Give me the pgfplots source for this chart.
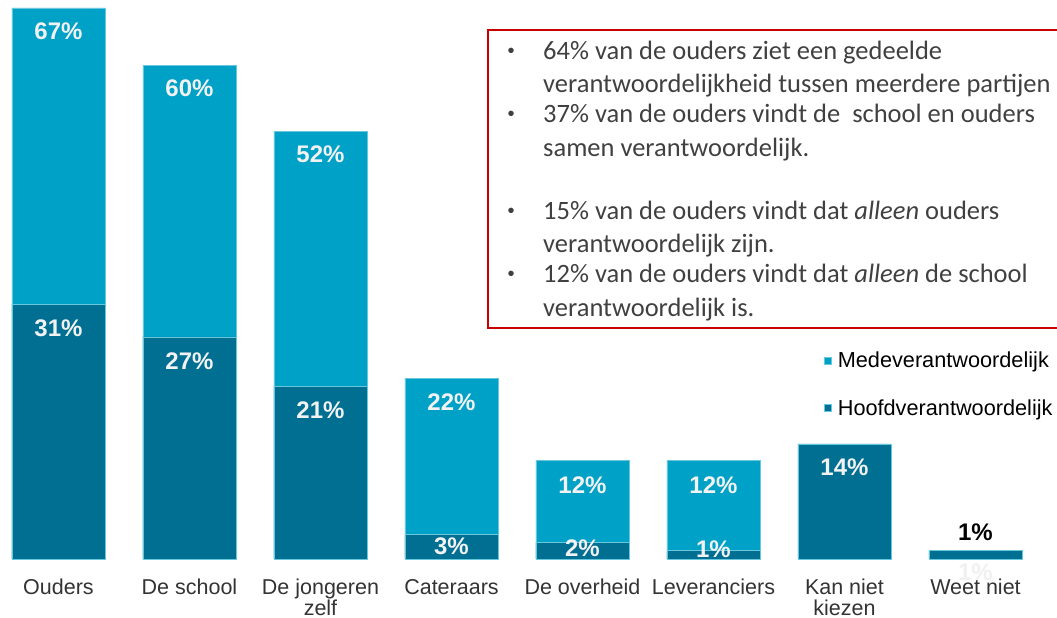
\documentclass[border=0pt]{standalone}
\usepackage{pgfplots}
\pgfplotsset{compat=1.18}
\usepackage{fontspec}
\setmainfont{Liberation Sans}
\newfontfamily\calibri{Carlito}
\definecolor{mede}{RGB}{0,161,199}
\definecolor{hoofd}{RGB}{0,111,146}
\definecolor{boxred}{RGB}{200,0,0}
\definecolor{txt}{RGB}{64,64,64}
\definecolor{lbl}{RGB}{51,51,51}
\begin{document}
\begin{tikzpicture}[x=1pt,y=1pt]
\useasboundingbox (0,0) rectangle (1057,618);
\begin{axis}[
  at={(6.1pt,59pt)}, anchor=south west,
  scale only axis, width=1021.8pt, height=551pt,
  xmin=-0.4, xmax=7.4, ymin=0, ymax=67,
  axis line style={draw=none}, ytick=\empty,
  xtick={0,...,7},
  xticklabels={{Ouders\\\strut}, {De school\\\strut}, {De jongeren\\zelf}, {Cateraars\\\strut}, {De overheid\\\strut}, {Leveranciers\\\strut}, {Kan niet\\kiezen}, {Weet niet\\\strut}},
  major tick length=0pt,
  xticklabel style={align=center, font=\fontsize{21.5}{20.5}\selectfont, text=lbl, anchor=north, yshift=-20pt, inner ysep=0pt},
  clip=false,
  legend style={at={(0.8000,0.3793)}, anchor=north west, draw=none, fill=none,
    font=\fontsize{21.7}{24}\selectfont, row sep=26pt, inner sep=0pt,
    nodes={inner ysep=2pt, inner xsep=6.5pt}},
  legend cell align=left,
  legend image code/.code={\fill[#1] (0pt,-3.5pt) rectangle (7pt,3.5pt);},
]
\addplot[ybar, bar width=93pt, bar shift=0pt, fill=mede, draw=mede!60!white, line width=0.6pt]
  coordinates {(0,67)(1,60)(2,52)(3,22)(4,12)(5,12)};
\addlegendentry{Medeverantwoordelijk}
\addplot[ybar, bar width=93pt, bar shift=0pt, fill=hoofd, draw=mede!60!white, line width=0.6pt]
  coordinates {(0,31)(1,27)(2,21)(3,3)(4,2)(5,1)(6,14)(7,1)};
\addlegendentry{Hoofdverantwoordelijk}
% labels for total (medeverantwoordelijk)
\addplot[draw=none, forget plot, nodes near coords, point meta=explicit symbolic,
  every node near coord/.append style={anchor=center, font=\bfseries\fontsize{24}{24}\selectfont, text=white!95!black}]
  coordinates {(0,64.2)[67\%] (1,57.3)[60\%] (2,49.2)[52\%] (3,19.1)[22\%] (4,9.0)[12\%] (5,9.0)[12\%]};
% labels for hoofdverantwoordelijk
\addplot[draw=none, forget plot, nodes near coords, point meta=explicit symbolic,
  every node near coord/.append style={anchor=center, font=\bfseries\fontsize{24}{24}\selectfont, text=white!95!black}]
  coordinates {(0,28.1)[31\%] (1,24.1)[27\%] (2,18.1)[21\%] (3,1.6)[3\%] (4,1.3)[2\%] (5,1.2)[1\%] (6,11.1)[14\%]};
\addplot[draw=none, forget plot, nodes near coords, point meta=explicit symbolic,
  every node near coord/.append style={anchor=center, font=\bfseries\fontsize{24}{24}\selectfont, text=black}]
  coordinates {(7,3.2)[1\%]};
\addplot[draw=none, forget plot, nodes near coords, point meta=explicit symbolic,
  every node near coord/.append style={anchor=center, font=\bfseries\fontsize{24}{24}\selectfont, text=black!6}]
  coordinates {(7,-1.6)[1\%]};
\end{axis}
\draw[boxred, line width=1.6pt] (1075,588) -- (488,588) -- (488,290) -- (1075,290);
\begin{scope}[every node/.style={anchor=base west, inner sep=0pt, text=txt, font=\calibri\fontsize{26.5}{30}\selectfont}]
\node[anchor=base, font=\fontsize{20}{20}\selectfont] at (511,560) {•};
\node at (543,558) {64\% van de ouders ziet een gedeelde};
\node at (543,525) {verantwoordelijkheid tussen meerdere partijen};
\node[anchor=base, font=\fontsize{20}{20}\selectfont] at (511,497) {•};
\node at (543,495) {37\% van de ouders vindt de\ \ school en ouders};
\node at (543,461) {samen verantwoordelijk.};
\node[anchor=base, font=\fontsize{20}{20}\selectfont] at (511,400) {•};
\node at (543,398) {15\% van de ouders vindt dat \textit{alleen} ouders};
\node at (543,365) {verantwoordelijk zijn.};
\node[anchor=base, font=\fontsize{20}{20}\selectfont] at (511,337) {•};
\node at (543,335) {12\% van de ouders vindt dat \textit{alleen} de school};
\node at (543,301) {verantwoordelijk is.};
\end{scope}
\end{tikzpicture}
\end{document}
